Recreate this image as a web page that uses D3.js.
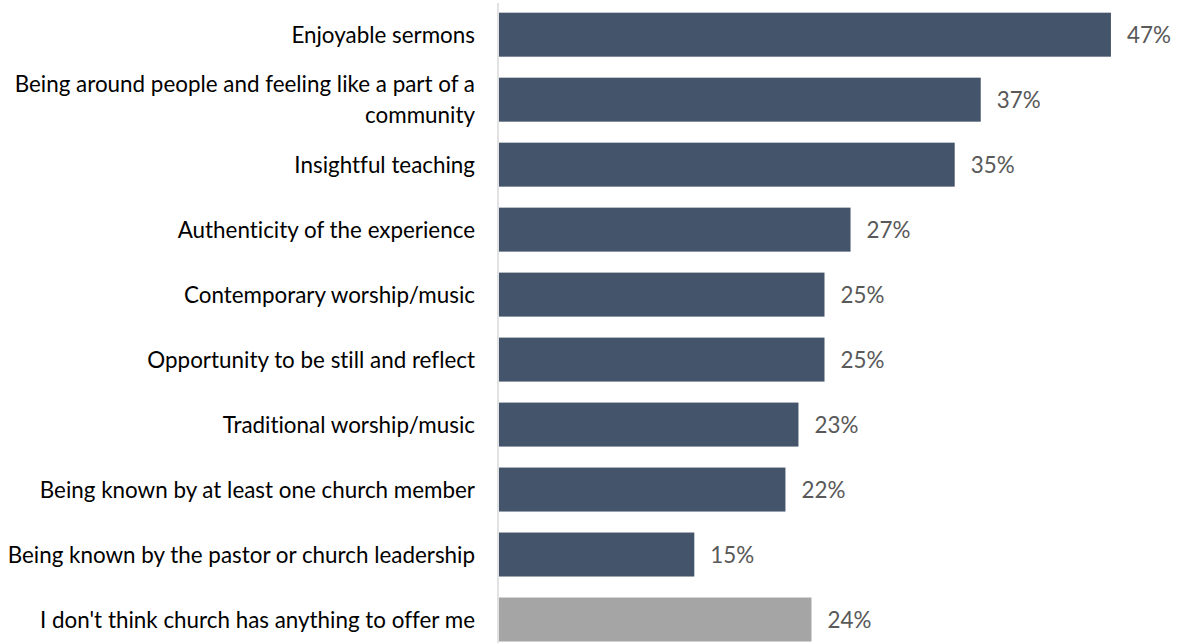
<!DOCTYPE html>
<html><head><meta charset="utf-8">
<script src="https://cdn.jsdelivr.net/npm/d3@7/dist/d3.min.js"></script>
<style>
body{margin:0;background:#fff;}
svg{display:block;}
text{font-variant-ligatures:none;font-feature-settings:"liga" 0;}
</style></head>
<body>
<svg id="chart" width="1183" height="643"></svg>
<script>
const categories = [
  "Enjoyable sermons",
  "Being around people and feeling like a part of a community",
  "Insightful teaching",
  "Authenticity of the experience",
  "Contemporary worship/music",
  "Opportunity to be still and reflect",
  "Traditional worship/music",
  "Being known by at least one church member",
  "Being known by the pastor or church leadership",
  "I don't think church has anything to offer me"
];
const values = [47, 37, 35, 27, 25, 25, 23, 22, 15, 24];
const barColors = ["#44546A","#44546A","#44546A","#44546A","#44546A","#44546A","#44546A","#44546A","#44546A","#A5A5A5"];

const svg = d3.select("#chart");
const fontFamily = "Lato, 'Open Sans', sans-serif";
const fontSize = 22.4;

const x = d3.scaleLinear().domain([0, 10]).range([499, 629.2]);
const y = d3.scaleBand().domain(categories).range([2.3, 651.9]).paddingInner(0.323).paddingOuter(0.16);

// axis line
svg.append("line")
  .attr("x1", 498).attr("x2", 498).attr("y1", 3).attr("y2", 643)
  .attr("stroke", "#D9D9D9").attr("stroke-width", 1.5);

svg.selectAll("rect.bar").data(categories).enter().append("rect")
  .attr("class", "bar")
  .attr("x", x(0))
  .attr("y", d => y(d))
  .attr("width", (d, i) => x(values[i]) - x(0))
  .attr("height", y.bandwidth())
  .attr("fill", (d, i) => barColors[i]);

svg.selectAll("text.val").data(categories).enter().append("text")
  .attr("class", "val")
  .attr("x", (d, i) => x(values[i]) + 16)
  .attr("y", d => y(d) + y.bandwidth() / 2)
  .attr("dy", "0.36em")
  .attr("font-family", fontFamily)
  .attr("font-size", fontSize)
  .attr("fill", "#595959")
  .text((d, i) => values[i] + "%");

// category labels with wrapping
const maxW = 490;
const lineH = 31;
categories.forEach(cat => {
  const g = svg.append("text")
    .attr("text-anchor", "end")
    .attr("font-family", fontFamily)
    .attr("font-size", fontSize)
    .attr("fill", "#000");
  const words = cat.split(" ");
  let lines = [];
  let cur = [];
  const probe = g.append("tspan");
  words.forEach(w => {
    const test = cur.concat([w]).join(" ");
    probe.text(test);
    if (probe.node().getComputedTextLength() > maxW && cur.length) {
      lines.push(cur.join(" "));
      cur = [w];
    } else cur.push(w);
  });
  lines.push(cur.join(" "));
  probe.remove();
  const cy = y(cat) + y.bandwidth() / 2;
  const top = cy - (lines.length - 1) * lineH / 2;
  lines.forEach((ln, k) => {
    g.append("tspan").attr("x", 475).attr("y", top + k * lineH).attr("dy", "0.36em").text(ln);
  });
});
</script>
</body></html>
